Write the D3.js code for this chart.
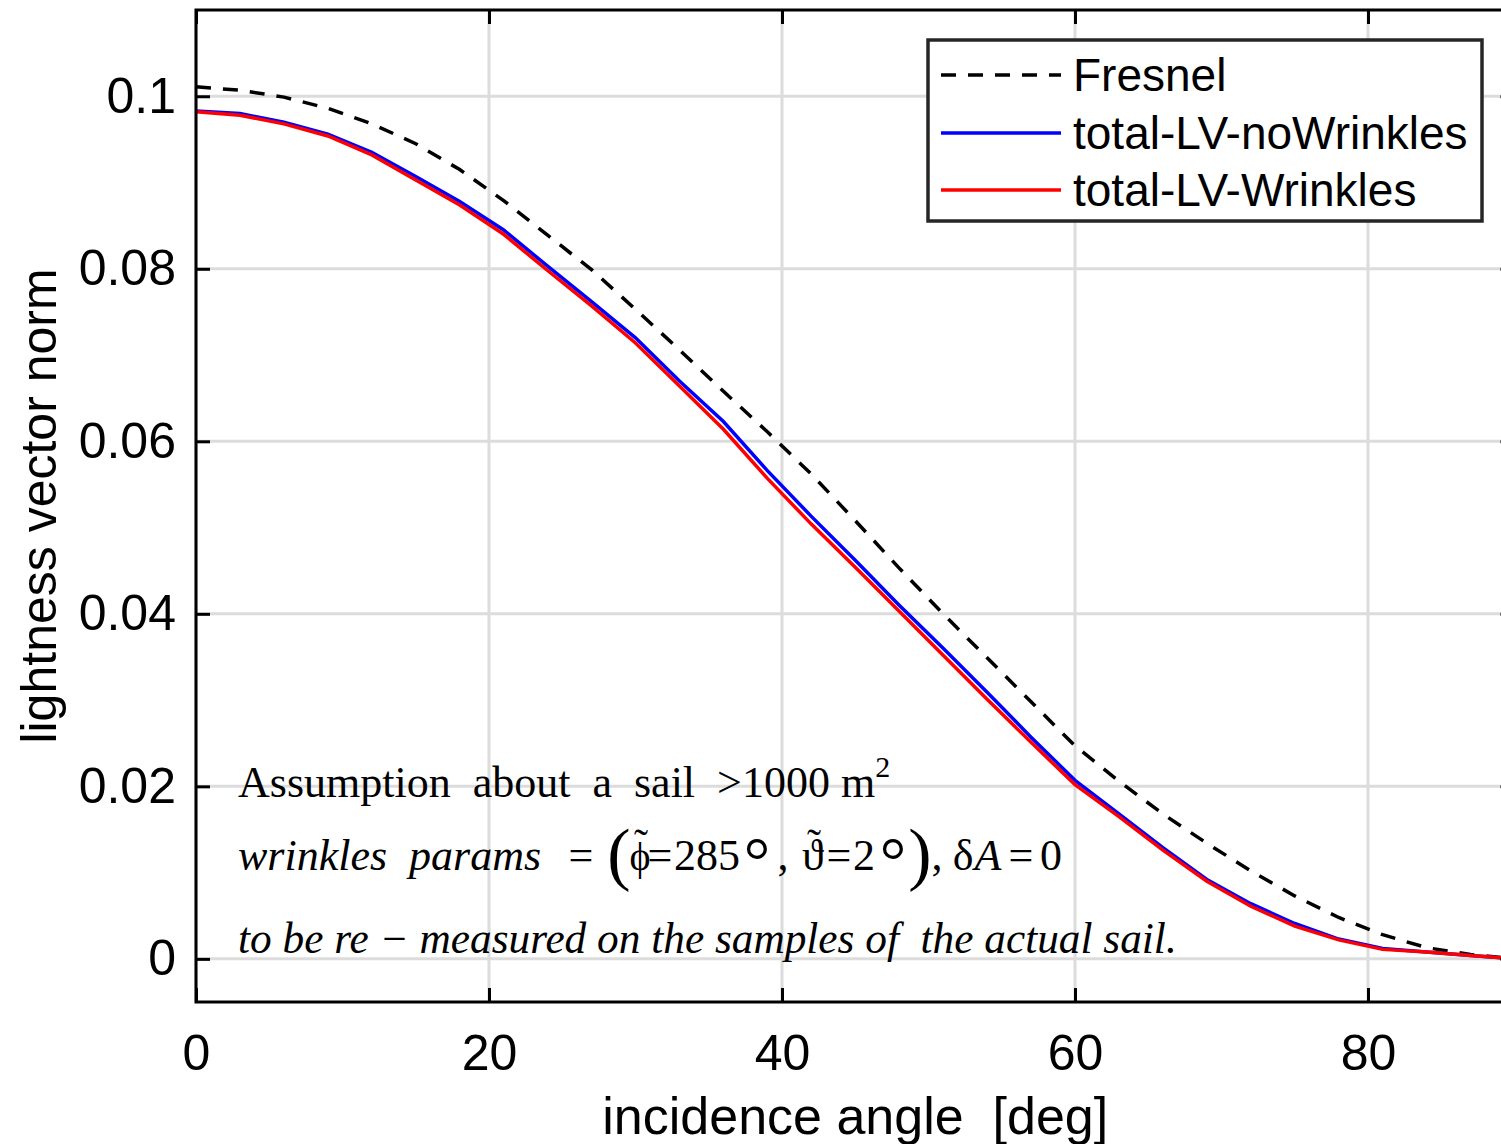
<!DOCTYPE html>
<html>
<head>
<meta charset="utf-8">
<script src="https://cdn.jsdelivr.net/npm/d3@7"></script>
<style>
  html, body { margin: 0; padding: 0; background: #fff; }
  svg { display: block; }
  text { white-space: pre; }
</style>
</head>
<body>
<svg id="chart" width="1501" height="1144"></svg>
<script>
// Incidence angles [deg], sampled every 3 degrees
const angles = [0, 3, 6, 9, 12, 15, 18, 21, 24, 27, 30, 33, 36, 39, 42, 45,
                48, 51, 54, 57, 60, 63, 66, 69, 72, 75, 78, 81, 84, 87, 90];

// Lightness vector norm from the Fresnel model
const fresnel = [0.1011, 0.1007, 0.0999, 0.0986, 0.0968, 0.0945, 0.0915, 0.0879,
                 0.0839, 0.0799, 0.0753, 0.0706, 0.0658, 0.0611, 0.0562, 0.0508,
                 0.0453, 0.0400, 0.0349, 0.0298, 0.0247, 0.0206, 0.0168, 0.0134,
                 0.0102, 0.0073, 0.0048, 0.0028, 0.0013, 0.0005, 0.0000];

// Total lightness vector, flat sail
const noWrinkles = [0.0983, 0.0980, 0.0970, 0.0956, 0.0935, 0.0907, 0.0878, 0.0845,
                    0.0803, 0.0762, 0.0720, 0.0670, 0.0623, 0.0566, 0.0513, 0.0462,
                    0.0410, 0.0360, 0.0309, 0.0257, 0.0207, 0.0168, 0.0129, 0.0092,
                    0.0064, 0.0041, 0.0023, 0.0012, 0.0008, 0.0004, 0.0000];

// Total lightness vector, wrinkled sail
const wrinkles = [0.0982, 0.0978, 0.0968, 0.0954, 0.0932, 0.0903, 0.0874, 0.0840,
                  0.0798, 0.0757, 0.0714, 0.0664, 0.0614, 0.0557, 0.0504, 0.0454,
                  0.0403, 0.0352, 0.0301, 0.0251, 0.0202, 0.0165, 0.0126, 0.0090,
                  0.0061, 0.0038, 0.0022, 0.0011, 0.0008, 0.0004, 0.0000];

const xTicks = [0, 20, 40, 60, 80];
const yTicks = [0, 0.02, 0.04, 0.06, 0.08, 0.1];
const yTickLabels = ["0", "0.02", "0.04", "0.06", "0.08", "0.1"];

const seriesNames = ["Fresnel", "total-LV-noWrinkles", "total-LV-Wrinkles"];
const seriesColors = ["#000000", "#0000ff", "#ff0000"];

const svg = d3.select("#chart");
const sans = "Liberation Sans, Arial, Helvetica, sans-serif";
const serif = "Liberation Serif, Times New Roman, serif";

const plot = { left: 196, top: 10, right: 1514.5, bottom: 1002 };

const x = d3.scaleLinear().domain([0, 90]).range([plot.left, plot.right]);
const y = d3.scaleLinear().domain([-0.005, 0.11]).range([plot.bottom, plot.top]);

// grid
const grid = svg.append("g").attr("stroke", "#dcdcdc").attr("stroke-width", 3);
grid.selectAll("line.v").data(xTicks).join("line")
  .attr("x1", d => x(d)).attr("x2", d => x(d))
  .attr("y1", plot.top).attr("y2", plot.bottom);
grid.selectAll("line.h").data(yTicks).join("line")
  .attr("x1", plot.left).attr("x2", plot.right)
  .attr("y1", d => y(d)).attr("y2", d => y(d));

// curves
const line = vals => d3.line()
  .x((d, i) => x(angles[i]))
  .y(d => y(d))(vals);

const curves = svg.append("g").attr("fill", "none");
curves.append("path").attr("d", line(fresnel))
  .attr("stroke", seriesColors[0]).attr("stroke-width", 3.5)
  .attr("stroke-dasharray", "15 12");
curves.append("path").attr("d", line(noWrinkles))
  .attr("stroke", seriesColors[1]).attr("stroke-width", 3.5);
curves.append("path").attr("d", line(wrinkles))
  .attr("stroke", seriesColors[2]).attr("stroke-width", 3.5);

// axes (ticks pointing inward, mirrored on top and right)
const tickLen = 14;
const axBottom = d3.axisBottom(x).tickValues(xTicks).tickSize(-tickLen).tickPadding(32)
  .tickFormat(d3.format("d"));
const axTop = d3.axisTop(x).tickValues(xTicks).tickSize(-tickLen).tickFormat("");
const axLeft = d3.axisLeft(y).tickValues(yTicks).tickSize(-tickLen).tickPadding(20)
  .tickFormat((d, i) => yTickLabels[i]);
const axRight = d3.axisRight(y).tickValues(yTicks).tickSize(-tickLen).tickFormat("");

function styleAxis(g) {
  g.select(".domain").remove();
  g.selectAll(".tick line").attr("stroke", "#000").attr("stroke-width", 3);
  g.selectAll(".tick text").attr("fill", "#000")
    .style("font-family", sans).style("font-size", "50px");
}
svg.append("g").attr("transform", `translate(0,${plot.bottom})`).call(axBottom).call(styleAxis);
svg.append("g").attr("transform", `translate(0,${plot.top})`).call(axTop).call(styleAxis);
svg.append("g").attr("transform", `translate(${plot.left},0)`).call(axLeft).call(styleAxis);
svg.append("g").attr("transform", `translate(${plot.right},0)`).call(axRight).call(styleAxis);

// axes box
svg.append("rect")
  .attr("x", plot.left).attr("y", plot.top)
  .attr("width", plot.right - plot.left).attr("height", plot.bottom - plot.top)
  .attr("fill", "none").attr("stroke", "#000").attr("stroke-width", 3);

// axis labels
svg.append("text")
  .attr("x", (plot.left + plot.right) / 2).attr("y", 1134)
  .attr("text-anchor", "middle")
  .style("font-family", sans).style("font-size", "52px")
  .text("incidence angle  [deg]");

svg.append("text")
  .attr("transform", `translate(56,${(y(0.11) + y(-0.005)) / 2}) rotate(-90)`)
  .attr("text-anchor", "middle")
  .style("font-family", sans).style("font-size", "50px")
  .text("lightness vector norm");

// annotation
const note = svg.append("g").style("font-family", serif).style("font-size", "44px").attr("fill", "#000");
const noteX = 238;

const l1 = note.append("text").attr("x", noteX).attr("y", 797);
l1.append("tspan").text("Assumption  about  a  sail  >1000 m");
l1.append("tspan").attr("dy", -20).style("font-size", "30px").text("2");

// second line: wrinkle parameters, typeset piece by piece (cx = glyph centre)
const base2 = 870;
note.append("text").attr("x", noteX).attr("y", base2)
  .style("font-style", "italic").text("wrinkles  params");
const pieces = [
  { cx: 581,  t: "=" },
  { cx: 619,  t: "(", big: true },
  { cx: 640,  t: "\u03D5", tilde: true, narrow: true },
  { cx: 660,  t: "=" },
  { cx: 707,  t: "285" },
  { cx: 757,  t: "°", deg: true },
  { cx: 783,  t: "," },
  { cx: 813,  t: "\u03D1", tilde: true },
  { cx: 839,  t: "=" },
  { cx: 864,  t: "2" },
  { cx: 893,  t: "°", deg: true },
  { cx: 920,  t: ")", big: true },
  { cx: 937,  t: "," },
  { cx: 963,  t: "δ" },
  { cx: 988,  t: "A", it: true },
  { cx: 1021, t: "=" },
  { cx: 1051, t: "0" }
];
pieces.forEach(p => {
  const tx = note.append("text").attr("x", p.cx).attr("y", base2)
    .attr("text-anchor", "middle").text(p.t);
  if (p.it) tx.style("font-style", "italic");
  if (p.big) tx.style("font-size", "70px").attr("y", base2 + 7);
  if (p.deg) tx.style("font-size", "66px").attr("y", base2 + 13);
  if (p.narrow) tx.style("font-size", "40px");
  if (p.tilde) {
    note.append("text").attr("x", p.cx + 1).attr("y", base2 - 12)
      .attr("text-anchor", "middle").style("font-size", "42px").text("\u02DC");
  }
});

note.append("text").attr("x", noteX).attr("y", 953)
  .style("font-style", "italic").style("font-size", "43.3px")
  .text("to be re − measured on the samples of  the actual sail.");

// legend
const lg = svg.append("g");
lg.append("rect")
  .attr("x", 928).attr("y", 40).attr("width", 554).attr("height", 181)
  .attr("fill", "#fff").attr("stroke", "#262626").attr("stroke-width", 3.5);
const rowY = [75, 133, 190];
seriesNames.forEach((name, i) => {
  lg.append("line")
    .attr("x1", 941).attr("x2", 1061).attr("y1", rowY[i]).attr("y2", rowY[i])
    .attr("stroke", seriesColors[i]).attr("stroke-width", 3.5)
    .attr("stroke-dasharray", i === 0 ? "15 12" : null);
  lg.append("text")
    .attr("x", 1073).attr("y", rowY[i]).attr("dy", "0.35em")
    .style("font-family", sans).style("font-size", "46px")
    .text(name);
});
</script>
</body>
</html>
